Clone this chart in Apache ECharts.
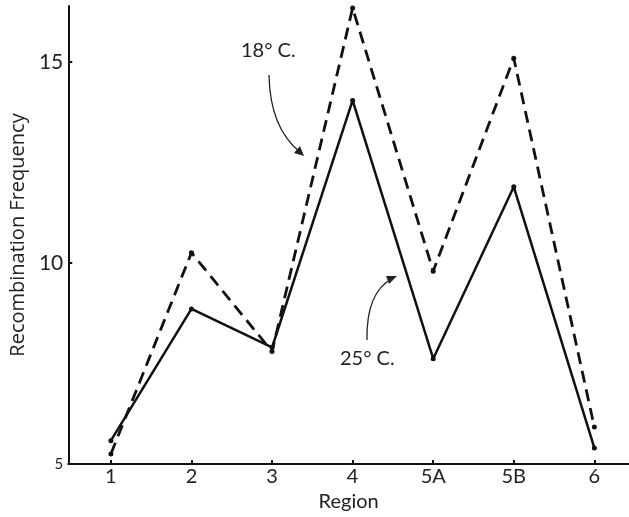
<!DOCTYPE html>
<html>
<head>
<meta charset="utf-8">
<script src="https://cdn.jsdelivr.net/npm/echarts@6/dist/echarts.min.js"></script>
<style>
  html, body { margin: 0; padding: 0; background: #fff; }
  #chart { width: 629px; height: 517px; }
</style>
</head>
<body>
<div id="chart"></div>
<script>
// regions along the chromosome
const regions = ['1', '2', '3', '4', '5A', '5B', '6'];
// recombination frequency at 18 C (dashed) and 25 C (solid)
const freq18 = [5.25, 10.26, 7.8, 16.35, 9.8, 15.1, 5.92];
const freq25 = [5.58, 8.86, 7.9, 14.05, 7.62, 11.9, 5.4];
const yTicks = [5, 10, 15];

const regionPos = regions.map((r, i) => i + 1);
const FONT = 'Lato';

function toPairs(vals) {
    return vals.map((v, i) => [regionPos[i], v]);
}

const chart = echarts.init(document.querySelector('#chart'));
chart.setOption({
    animation: false,
    backgroundColor: '#fff',
    grid: { left: 58, right: 0, top: 6, bottom: 53 },
    xAxis: {
        type: 'value',
        min: 0.471,
        max: 7.43,
        name: 'Region',
        nameLocation: 'middle',
        nameGap: 26,
        nameTextStyle: { fontFamily: FONT, fontSize: 20, color: '#222' },
        axisLine: { show: true, lineStyle: { color: '#111', width: 2 } },
        axisTick: {
            show: true, inside: true, length: 4,
            customValues: regionPos,
            lineStyle: { color: '#111', width: 2 }
        },
        axisLabel: {
            customValues: regionPos,
            formatter: v => regions[Math.round(v) - 1] || '',
            margin: 3,
            fontFamily: FONT, fontSize: 20, color: '#222'
        },
        splitLine: { show: false }
    },
    yAxis: {
        type: 'value',
        min: 5,
        max: 16.4,
        interval: 5,
        name: 'Recombination Frequency',
        nameLocation: 'middle',
        nameGap: 37,
        nameRotate: 90,
        nameTextStyle: { fontFamily: 'Open Sans', fontSize: 20, color: '#222' },
        axisLine: { show: true, lineStyle: { color: '#111', width: 2 } },
        axisTick: {
            show: true, inside: true, length: 4,
            customValues: yTicks,
            lineStyle: { color: '#111', width: 2 }
        },
        axisLabel: {
            customValues: yTicks,
            margin: 5,
            formatter: v => v === 5 ? '{s|5}' : String(v),
            fontFamily: FONT, fontSize: 21, color: '#222',
            rich: { s: { fontFamily: FONT, fontSize: 15, color: '#222' } }
        },
        splitLine: { show: false }
    },
    series: [
        {
            name: '18° C.',
            type: 'line',
            data: toPairs(freq18),
            clip: false,
            symbol: 'circle',
            symbolSize: 5,
            itemStyle: { color: '#111' },
            lineStyle: { color: '#111', width: 2.8, type: [12, 7] }
        },
        {
            name: '25° C.',
            type: 'line',
            data: toPairs(freq25),
            clip: false,
            symbol: 'circle',
            symbolSize: 5,
            itemStyle: { color: '#111' },
            lineStyle: { color: '#111', width: 2.5 }
        }
    ],
    graphic: [
        {
            type: 'text', left: 241, top: 41,
            style: { text: '18° C.', fontFamily: FONT, fontSize: 20, fill: '#222' }
        },
        {
            type: 'bezierCurve',
            shape: { x1: 269, y1: 75, cpx1: 270, cpy1: 128, x2: 300, y2: 152 },
            style: { stroke: '#222', lineWidth: 1.3, fill: null }
        },
        {
            type: 'polygon',
            shape: { points: [[304, 156], [294, 153], [300, 146]] },
            style: { fill: '#222' }
        },
        {
            type: 'text', left: 340, top: 349,
            style: { text: '25° C.', fontFamily: FONT, fontSize: 20, fill: '#222' }
        },
        {
            type: 'bezierCurve',
            shape: { x1: 367, y1: 340, cpx1: 366, cpy1: 292, x2: 393, y2: 278 },
            style: { stroke: '#222', lineWidth: 1.3, fill: null }
        },
        {
            type: 'polygon',
            shape: { points: [[397, 276], [389, 284], [386, 276]] },
            style: { fill: '#222' }
        }
    ]
});
</script>
</body>
</html>
